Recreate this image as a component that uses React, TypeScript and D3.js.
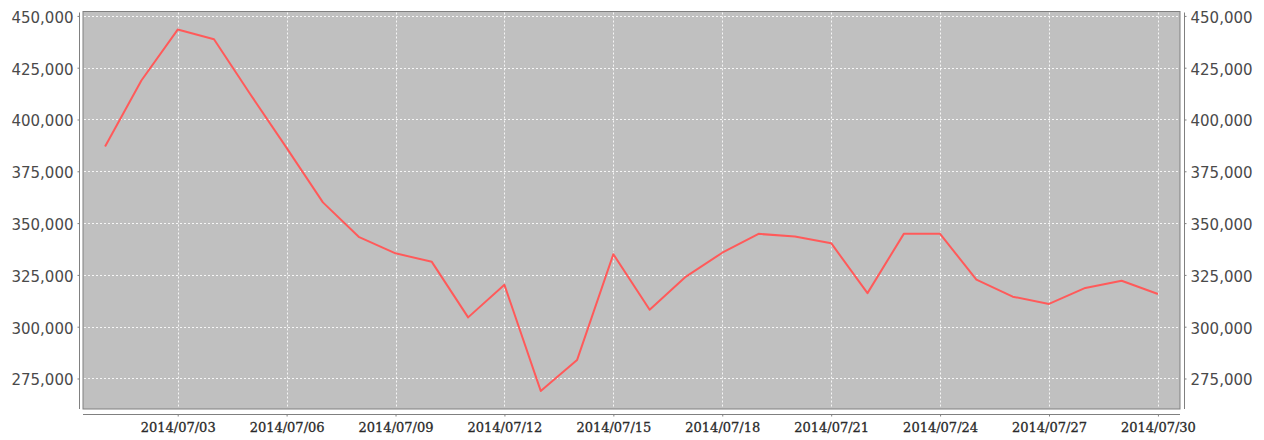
import { useEffect, useRef } from "react";
import * as d3 from "d3";

// daily values, July 2014
const days = [
  "2014/07/01", "2014/07/02", "2014/07/03", "2014/07/04", "2014/07/05",
  "2014/07/06", "2014/07/07", "2014/07/08", "2014/07/09", "2014/07/10",
  "2014/07/11", "2014/07/12", "2014/07/13", "2014/07/14", "2014/07/15",
  "2014/07/16", "2014/07/17", "2014/07/18", "2014/07/19", "2014/07/20",
  "2014/07/21", "2014/07/22", "2014/07/23", "2014/07/24", "2014/07/25",
  "2014/07/26", "2014/07/27", "2014/07/28", "2014/07/29", "2014/07/30",
];
const values = [
  387000, 418800, 443400, 438700, 412200,
  386300, 360000, 343200, 335400, 331300,
  304500, 320200, 269000, 283900, 335000,
  308200, 324200, 335700, 344800, 343500,
  340300, 316200, 344800, 344800, 322700,
  314500, 311000, 318700, 322200, 315800,
];
const dateTicks = [
  "2014/07/03", "2014/07/06", "2014/07/09", "2014/07/12", "2014/07/15",
  "2014/07/18", "2014/07/21", "2014/07/24", "2014/07/27", "2014/07/30",
];
const valueTicks = [275000, 300000, 325000, 350000, 375000, 400000, 425000, 450000];

const W = 1264;
const H = 440;

const App = () => {
  const ref = useRef<SVGSVGElement>(null);

  useEffect(() => {
    const svg = d3.select(ref.current);
    svg.selectAll("*").remove();

    const parse = d3.timeParse("%Y/%m/%d");
    const data = days.map((d, i) => ({ date: parse(d) as Date, value: values[i] }));

    const plot = { left: 83, right: 1180, top: 11.5, bottom: 409 };

    // small margin round the dates, like the source chart
    const pad = 14.6 * 3600 * 1000;
    const first = data[0].date.getTime();
    const last = data[data.length - 1].date.getTime();
    const x = d3.scaleTime()
      .domain([new Date(first - pad), new Date(last + pad)])
      .range([plot.left, plot.right]);

    const [vmin, vmax] = d3.extent(values) as [number, number];
    const margin = (vmax - vmin) * 0.05;
    const y = d3.scaleLinear()
      .domain([vmin - margin, vmax + margin])
      .range([plot.bottom, plot.top]);

    // plot background
    svg.append("rect")
      .attr("x", plot.left)
      .attr("y", plot.top)
      .attr("width", plot.right - plot.left)
      .attr("height", plot.bottom - plot.top)
      .attr("fill", "#c0c0c0")
      .attr("stroke", "#808080")
      .attr("stroke-width", 1);

    const tickDates = dateTicks.map(d => parse(d) as Date);

    // grid
    const grid = svg.append("g")
      .attr("stroke", "#ffffff")
      .attr("stroke-opacity", 0.85)
      .attr("stroke-width", 1)
      .attr("stroke-dasharray", "2,2");

    grid.selectAll(".vg")
      .data(tickDates)
      .enter()
      .append("line")
      .attr("x1", d => Math.round(x(d)) + 0.5)
      .attr("x2", d => Math.round(x(d)) + 0.5)
      .attr("y1", plot.top + 1)
      .attr("y2", plot.bottom - 1);

    grid.selectAll(".hg")
      .data(valueTicks)
      .enter()
      .append("line")
      .attr("x1", plot.left + 1)
      .attr("x2", plot.right - 1)
      .attr("y1", d => Math.round(y(d)) + 0.5)
      .attr("y2", d => Math.round(y(d)) + 0.5);

    // left axis
    const yLeft = d3.axisLeft(y)
      .tickValues(valueTicks)
      .tickFormat(d3.format(","))
      .tickSize(2)
      .tickPadding(4);
    const gl = svg.append("g")
      .attr("transform", `translate(${plot.left - 3.5},0)`)
      .call(yLeft);

    // right axis
    const yRight = d3.axisRight(y)
      .tickValues(valueTicks)
      .tickFormat(d3.format(","))
      .tickSize(2)
      .tickPadding(4);
    const gr = svg.append("g")
      .attr("transform", `translate(${plot.right + 4.5},0)`)
      .call(yRight);

    [gl, gr].forEach(g => {
      g.select(".domain")
        .attr("stroke", "#808080")
        .attr("d", `M0,${plot.top + 1}V${plot.bottom}`);
      g.selectAll(".tick line").attr("stroke", "#808080");
      g.selectAll(".tick text")
        .attr("font-family", "'DejaVu Sans', sans-serif")
        .attr("font-size", 15)
        .attr("fill", "#4a4a4a")
        .attr("dy", "0.42em");
    });

    // bottom axis
    const xAxis = d3.axisBottom(x)
      .tickValues(tickDates)
      .tickFormat(d3.timeFormat("%Y/%m/%d") as any)
      .tickSize(2)
      .tickPadding(6);
    const gx = svg.append("g")
      .attr("transform", `translate(0,${plot.bottom + 5.5})`)
      .call(xAxis);
    gx.select(".domain")
      .attr("stroke", "#808080")
      .attr("d", `M${plot.left},0H${plot.right}`);
    gx.selectAll(".tick line").attr("stroke", "#808080");
    gx.selectAll(".tick text")
      .attr("font-family", "'DejaVu Serif', serif")
      .attr("font-size", 13)
      .attr("fill", "#2a2a2a")
      .attr("stroke", "#2a2a2a")
      .attr("stroke-width", 0.3);

    // series line
    const line = d3.line<{ date: Date; value: number }>()
      .x(d => x(d.date))
      .y(d => y(d.value));

    svg.append("path")
      .datum(data)
      .attr("fill", "none")
      .attr("stroke", "#ff5a5a")
      .attr("stroke-width", 2)
      .attr("stroke-linejoin", "round")
      .attr("d", line);
  }, []);

  return (
    <svg
      ref={ref}
      width={W}
      height={H}
      style={{ position: "absolute", left: 0, top: 0, background: "#ffffff" }}
    />
  );
};

export default App;
